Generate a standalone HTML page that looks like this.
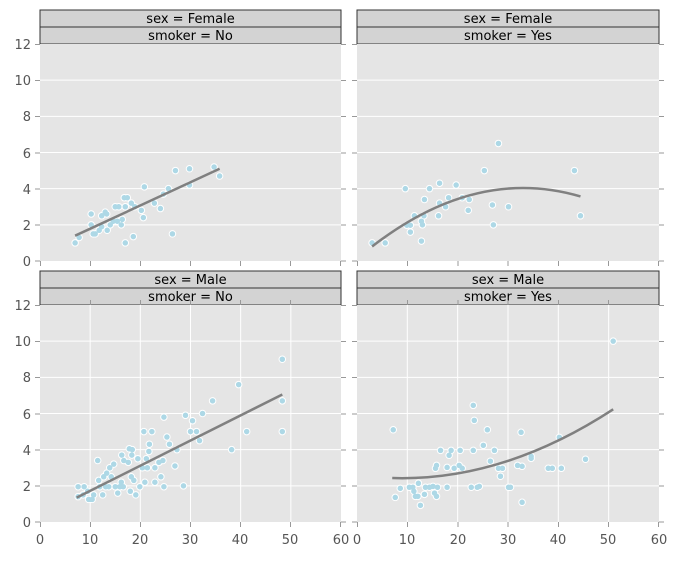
<!DOCTYPE html>
<html><head><meta charset="utf-8"><style>
body{margin:0;background:#fff;}
svg text{font-family:"DejaVu Sans","Liberation Sans",sans-serif;}
</style></head><body>
<svg width="677" height="558" viewBox="0 0 677 558" xmlns="http://www.w3.org/2000/svg">
<defs>
<g id="gh">
<path d="M0 2H60M0 4H60M0 6H60M0 8H60M0 10H60" stroke="#fff" stroke-width="1" vector-effect="non-scaling-stroke" fill="none"/>
</g>
<g id="gv">
<path d="M10 0V12M20 0V12M30 0V12M40 0V12M50 0V12" stroke="#fff" stroke-width="1" vector-effect="non-scaling-stroke" fill="none"/>
</g>
<path id="p1" d="M7 1h0M7.8 1.3h0M10.2 2.6h0M10.2 2h0M10.6 1.5h0M11 1.5h0M11.8 1.7h0M12.3 2.5h0M12.3 1.9h0M13 2.7h0M13.3 2.6h0M13.4 1.7h0M14 2h0M14.6 2.2h0M15 3h0M15.7 3h0M15.4 2.2h0M16.2 2h0M16.4 2.3h0M16.8 3.5h0M17.4 3.5h0M17 3h0M17 1h0M18.2 3.2h0M18.6 1.35h0M18.9 3h0M20.2 2.8h0M20.6 2.4h0M20.8 4.1h0M22.8 3.2h0M24 2.9h0M24.6 3.7h0M25.6 4h0M26.4 1.5h0M27 5h0M29.8 5.1h0M29.8 4.2h0M34.7 5.2h0M35.8 4.7h0" fill="none" stroke-linecap="round" vector-effect="non-scaling-stroke"/>
<path id="p2" d="M3 1h0M5.6 1h0M9.6 4h0M9.9 1.98h0M10.6 1.98h0M10.6 1.6h0M11.4 2.5h0M12.8 2.2h0M12.8 1.1h0M13 2h0M13.3 2.5h0M13.4 3.4h0M14.4 4h0M16.2 2.5h0M16.4 3.2h0M16.4 4.3h0M17.6 3h0M18.2 3.5h0M19.7 4.2h0M20.9 3.5h0M22.1 2.8h0M22.3 3.4h0M25.3 5h0M26.9 3.1h0M27.1 2h0M28.1 6.5h0M30.1 3h0M43.2 5h0M44.4 2.5h0" fill="none" stroke-linecap="round" vector-effect="non-scaling-stroke"/>
<path id="p3" d="M7.6 1.95h0M7.6 1.4h0M8.8 1.95h0M8.6 1.5h0M9.5 1.7h0M9.7 1.25h0M10.4 1.25h0M10.7 1.5h0M11.5 3.4h0M11.7 2.3h0M11.9 1.95h0M12.5 1.5h0M12.7 2.5h0M13.3 2.7h0M13.1 1.95h0M13.7 1.95h0M13.9 3h0M14.2 2.5h0M14.7 3.2h0M15 1.95h0M15.5 1.6h0M15.9 1.95h0M16.2 2.2h0M16.3 3.7h0M16.6 1.95h0M16.7 3.4h0M17.6 3.3h0M17.8 4.05h0M18 1.7h0M18.2 2.5h0M18.3 3.7h0M18.4 4h0M18.7 2.3h0M19.1 1.5h0M19.5 3.5h0M19.9 1.95h0M20.4 3h0M20.7 5h0M20.9 2.2h0M21.2 3.5h0M21.4 3h0M21.7 3.9h0M21.8 4.3h0M22.3 5h0M22.9 2.2h0M22.9 3h0M23.7 3.3h0M24.1 2.5h0M24.5 3.4h0M24.7 1.95h0M24.7 5.8h0M25.3 4.7h0M25.8 4.3h0M26.9 3.1h0M27.3 4h0M28.6 2h0M29 5.9h0M30 5h0M30.4 5.6h0M31.2 5h0M31.8 4.5h0M32.4 6h0M34.4 6.7h0M38.2 4h0M39.6 7.6h0M41.2 5h0M48.3 9h0M48.3 6.7h0M48.3 5h0" fill="none" stroke-linecap="round" vector-effect="non-scaling-stroke"/>
<path id="p4" d="M7.2 5.1h0M7.6 1.36h0M8.6 1.86h0M10.4 1.92h0M11.1 1.92h0M11.3 1.7h0M11.6 1.42h0M12.1 1.42h0M12.2 2.14h0M12.6 0.92h0M13.4 1.53h0M13.6 1.92h0M14.4 1.92h0M15.1 1.97h0M15.4 1.6h0M15.8 1.42h0M16 1.92h0M15.6 2.97h0M15.8 3.13h0M16.6 3.96h0M17.9 3.02h0M17.9 1.92h0M18.3 3.69h0M18.7 3.96h0M19.3 2.97h0M20.3 3.13h0M20.5 3.96h0M20.9 2.97h0M22.7 1.92h0M23.1 3.96h0M23.1 6.45h0M23.3 5.62h0M23.9 1.92h0M24.3 1.97h0M25.1 4.24h0M25.9 5.1h0M26.5 3.36h0M27.3 3.96h0M28.1 2.97h0M28.9 2.97h0M28.5 2.53h0M30.1 1.92h0M30.5 1.92h0M31.9 3.13h0M32.6 4.96h0M32.8 3.08h0M32.8 1.09h0M34.6 3.63h0M34.6 3.52h0M38 2.97h0M38.8 2.97h0M40.2 4.68h0M40.6 2.97h0M45.4 3.47h0M50.9 10h0" fill="none" stroke-linecap="round" vector-effect="non-scaling-stroke"/>
</defs>

<!-- strips -->
<g font-size="13" fill="#000" text-anchor="middle">
<rect x="40" y="10" width="301" height="17" fill="#d3d3d3" stroke="#333" stroke-width="1"/>
<rect x="40" y="27" width="301" height="17" fill="#d3d3d3" stroke="#333" stroke-width="1"/>
<text x="190.5" y="23">sex = Female</text><text x="190.5" y="40">smoker = No</text>
<rect x="357" y="10" width="302" height="17" fill="#d3d3d3" stroke="#333" stroke-width="1"/>
<rect x="357" y="27" width="302" height="17" fill="#d3d3d3" stroke="#333" stroke-width="1"/>
<text x="508" y="23">sex = Female</text><text x="508" y="40">smoker = Yes</text>
<rect x="40" y="271" width="301" height="17" fill="#d3d3d3" stroke="#333" stroke-width="1"/>
<rect x="40" y="288" width="301" height="17" fill="#d3d3d3" stroke="#333" stroke-width="1"/>
<text x="190.5" y="284">sex = Male</text><text x="190.5" y="301">smoker = No</text>
<rect x="357" y="271" width="302" height="17" fill="#d3d3d3" stroke="#333" stroke-width="1"/>
<rect x="357" y="288" width="302" height="17" fill="#d3d3d3" stroke="#333" stroke-width="1"/>
<text x="508" y="284">sex = Male</text><text x="508" y="301">smoker = Yes</text>
</g>

<rect x="40" y="44" width="301" height="217" fill="#e5e5e5"/>
<rect x="357" y="44" width="302" height="217" fill="#e5e5e5"/>
<rect x="40" y="305" width="301" height="217" fill="#e5e5e5"/>
<rect x="357" y="305" width="302" height="217" fill="#e5e5e5"/>

<g stroke="#999" stroke-width="1">
<path d="M35 44.5H40M35 80.5H40M35 116.5H40M35 153H40M35 189H40M35 225H40M35 261H40"/>
<path d="M341 44.5H346M341 80.5H346M341 116.5H346M341 153H346M341 189H346M341 225H346M341 261H346"/>
<path d="M352 44.5H357M352 80.5H357M352 116.5H357M352 153H357M352 189H357M352 225H357M352 261H357"/>
<path d="M659 44.5H664M659 80.5H664M659 116.5H664M659 153H664M659 189H664M659 225H664M659 261H664"/>
<path d="M35 305.5H40M35 341.5H40M35 377.5H40M35 414H40M35 450H40M35 486H40M35 522H40"/>
<path d="M341 305.5H346M341 341.5H346M341 377.5H346M341 414H346M341 450H346M341 486H346M341 522H346"/>
<path d="M352 305.5H357M352 341.5H357M352 377.5H357M352 414H357M352 450H357M352 486H357M352 522H357"/>
<path d="M659 305.5H664M659 341.5H664M659 377.5H664M659 414H664M659 450H664M659 486H664M659 522H664"/>
<path d="M40.5 522V527M90.5 522V527M140.5 522V527M190.5 522V527M240.5 522V527M290.5 522V527M340.5 522V527"/>
<path d="M357.5 522V527M407.5 522V527M458 522V527M508 522V527M558.5 522V527M608.5 522V527M658.5 522V527"/>
<path d="M40.5 261V266M90.5 261V266M140.5 261V266M190.5 261V266M240.5 261V266M290.5 261V266M340.5 261V266"/>
<path d="M357.5 261V266M407.5 261V266M458 261V266M508 261V266M558.5 261V266M608.5 261V266M658.5 261V266"/>
<path d="M90.5 300V305M140.5 300V305M190.5 300V305M240.5 300V305M290.5 300V305"/>
<path d="M407.5 300V305M458 300V305M508 300V305M558.5 300V305M608.5 300V305"/>
</g>

<g font-size="13" fill="#555" text-anchor="end">
<text x="31" y="49">12</text><text x="31" y="85">10</text><text x="31" y="121">8</text><text x="31" y="158">6</text><text x="31" y="194">4</text><text x="31" y="230">2</text><text x="31" y="266">0</text>
<text x="31" y="310">12</text><text x="31" y="346">10</text><text x="31" y="382">8</text><text x="31" y="419">6</text><text x="31" y="455">4</text><text x="31" y="491">2</text><text x="31" y="527">0</text>
</g>
<g font-size="13" fill="#555" text-anchor="middle">
<text x="40" y="544">0</text><text x="90" y="544">10</text><text x="140" y="544">20</text><text x="190" y="544">30</text><text x="240" y="544">40</text><text x="290" y="544">50</text><text x="341" y="544">60</text>
<text x="357" y="544">0</text><text x="407" y="544">10</text><text x="458" y="544">20</text><text x="508" y="544">30</text><text x="558" y="544">40</text><text x="608" y="544">50</text><text x="659" y="544">60</text>
</g>

<svg x="40" y="44" width="301" height="217" viewBox="0 0 60 12" preserveAspectRatio="none" overflow="hidden">
<g transform="matrix(1,0,0,-1,0,12)">
<use href="#gh"/>
<use href="#p1" stroke="#fff" stroke-width="7.5"/>
<use href="#p1" stroke="#add8e6" stroke-width="5.5"/>
<path d="M7 1.4L35.8 5.1" stroke="#808080" stroke-width="2.5" fill="none" vector-effect="non-scaling-stroke"/>
</g></svg>

<svg x="357" y="44" width="302" height="217" viewBox="0 0 60 12" preserveAspectRatio="none" overflow="hidden">
<g transform="matrix(1,0,0,-1,0,12)">
<use href="#gh"/>
<use href="#p2" stroke="#fff" stroke-width="7.5"/>
<use href="#p2" stroke="#add8e6" stroke-width="5.5"/>
<path d="M3 0.8Q23.7 5.27 44.4 3.57" stroke="#808080" stroke-width="2.5" fill="none" vector-effect="non-scaling-stroke"/>
</g></svg>

<svg x="40" y="305" width="301" height="217" viewBox="0 0 60 12" preserveAspectRatio="none" overflow="hidden">
<g transform="matrix(1,0,0,-1,0,12)">
<use href="#gh"/><use href="#gv"/>
<use href="#p3" stroke="#fff" stroke-width="7.5"/>
<use href="#p3" stroke="#add8e6" stroke-width="5.5"/>
<path d="M7.3 1.35L48.3 7.05" stroke="#808080" stroke-width="2.5" fill="none" vector-effect="non-scaling-stroke"/>
</g></svg>

<svg x="357" y="305" width="302" height="217" viewBox="0 0 60 12" preserveAspectRatio="none" overflow="hidden">
<g transform="matrix(1,0,0,-1,0,12)">
<use href="#gh"/><use href="#gv"/>
<use href="#p4" stroke="#fff" stroke-width="7.5"/>
<use href="#p4" stroke="#add8e6" stroke-width="5.5"/>
<path d="M7 2.43Q28.95 2.24 50.9 6.23" stroke="#808080" stroke-width="2.5" fill="none" vector-effect="non-scaling-stroke"/>
</g></svg>
</svg>
</body></html>
